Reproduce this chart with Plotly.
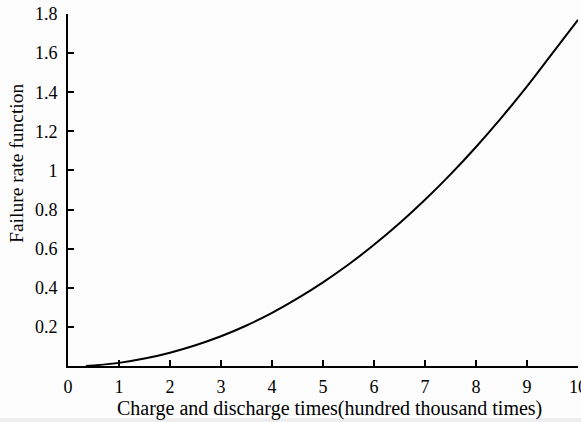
import plotly.graph_objects as go

# Data
cycles = [0.35, 0.5, 1, 1.5, 2, 2.5, 3, 3.5, 4, 4.5, 5, 5.5, 6, 6.5, 7, 7.5, 8, 8.5, 9, 9.5, 10]
failure_rate = [0.0, 0.003, 0.016, 0.038, 0.068, 0.106, 0.152, 0.207, 0.272, 0.346, 0.428,
                0.519, 0.62, 0.73, 0.85, 0.98, 1.12, 1.27, 1.43, 1.6, 1.77]
x_ticks = [0, 1, 2, 3, 4, 5, 6, 7, 8, 9, 10]
y_ticks = [0.2, 0.4, 0.6, 0.8, 1.0, 1.2, 1.4, 1.6, 1.8]
y_tick_text = ["0.2", "0.4", "0.6", "0.8", "1", "1.2", "1.4", "1.6", "1.8"]

FONT = "Liberation Serif"

fig = go.Figure()
fig.add_trace(go.Scatter(x=cycles, y=failure_rate, mode="lines",
                         line=dict(color="black", width=2, shape="spline"),
                         showlegend=False, cliponaxis=False))

fig.update_layout(
    width=581, height=422, autosize=False,
    margin=dict(l=68, r=3, t=14, b=56, autoexpand=False),
    paper_bgcolor="#fdfdfd", plot_bgcolor="#fdfdfd",
    font=dict(family=FONT, size=18, color="black"),
    xaxis=dict(range=[0, 10], tickvals=x_ticks, ticks="inside", ticklen=6, tickwidth=1.5,
               tickcolor="black", showline=True, linecolor="black", linewidth=2,
               showgrid=False, zeroline=False, ticklabelstandoff=3, automargin=False,
               ticklabeloverflow="allow", tickfont=dict(family=FONT, size=18)),
    yaxis=dict(range=[0, 1.8], tickvals=y_ticks, ticktext=y_tick_text, ticks="inside",
               ticklen=6, tickwidth=1.5, tickcolor="black", showline=True,
               linecolor="black", linewidth=2, showgrid=False, zeroline=False,
               ticklabelstandoff=5, automargin=False, tickfont=dict(family=FONT, size=18)),
    shapes=[
        dict(type="rect", xref="paper", yref="paper", x0=-0.2, x1=1.1,
             y0=-0.16, y1=-0.148, fillcolor="#eeeeee", line=dict(width=0), layer="below"),
    ],
    annotations=[
        dict(text="Failure rate function", textangle=-90, xref="paper", yref="paper",
             x=0, y=0.574, xshift=-51, xanchor="center", yanchor="middle",
             showarrow=False, font=dict(family=FONT, size=19.5)),
        dict(text="Charge and discharge times(hundred thousand times)", xref="paper",
             yref="paper", x=0.512, y=0, yshift=-42, xanchor="center", yanchor="middle",
             showarrow=False, font=dict(family=FONT, size=20)),
    ],
)

fig.write_html("out.html")
